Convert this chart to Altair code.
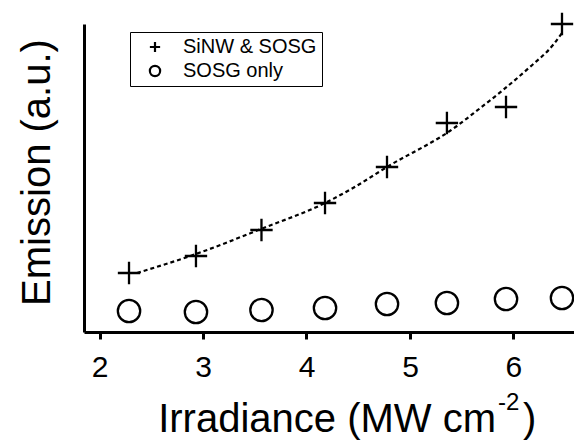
import altair as alt
import pandas as pd

# ---- data ----
irradiance = [2.285, 2.932, 3.565, 4.179, 4.778, 5.357, 5.928, 6.469]
emission_sinw = [0.59, 0.76, 1.02, 1.29, 1.65, 2.09, 2.25, 3.08]
emission_sosg = [0.21, 0.20, 0.22, 0.24, 0.28, 0.29, 0.33, 0.34]
fit_x = [2.362, 2.932, 3.560, 4.179, 4.449, 4.778, 5.454, 5.580, 5.899, 6.159, 6.382, 6.469]
fit_y = [0.59, 0.78, 1.03, 1.29, 1.44, 1.65, 2.06, 2.16, 2.42, 2.65, 2.87, 2.99]
series_names = ["SiNW & SOSG", "SOSG only"]
x_ticks = [2, 3, 4, 5, 6]

FONT = "Liberation Sans"
CROSS = "M-1,0L1,0M0,-1L0,1"

points = pd.DataFrame({
    "irradiance": irradiance + irradiance,
    "emission": emission_sinw + emission_sosg,
    "series": [series_names[0]] * len(irradiance) + [series_names[1]] * len(irradiance),
})
fit = pd.DataFrame({"irradiance": fit_x, "emission": fit_y})

x_enc = alt.X(
    "irradiance:Q",
    scale=alt.Scale(domain=[1.85, 6.585], nice=False, zero=False),
    axis=alt.Axis(
        title=None, values=x_ticks, format="d", grid=False,
        tickSize=7, tickWidth=3, tickColor="black",
        domainWidth=3, domainColor="black",
        labelFont=FONT, labelFontSize=30, labelColor="black", labelPadding=13,
    ),
)
y_enc = alt.Y(
    "emission:Q",
    scale=alt.Scale(domain=[0, 3.08], nice=False, zero=False),
    axis=alt.Axis(
        title="Emission (a.u.)", ticks=False, labels=False, grid=False,
        domainWidth=3, domainColor="black",
        titleFont=FONT, titleFontSize=40, titleFontWeight="normal", titleColor="black",
        titleAngle=270, titleX=-35, titleY=148, titleAlign="center",
        titleBaseline="alphabetic",
    ),
)

line = alt.Chart(fit).mark_line(
    color="black", strokeWidth=2.2, strokeDash=[4, 3], interpolate="monotone"
).encode(x=x_enc, y=y_enc)

pts = alt.Chart(points).mark_point(
    filled=False, color="black", strokeWidth=2.3, size=500, clip=False, opacity=1
).encode(
    x=x_enc,
    y=y_enc,
    shape=alt.Shape(
        "series:N",
        scale=alt.Scale(domain=series_names, range=[CROSS, "circle"]),
        legend=alt.Legend(
            title=None, orient="none", legendX=46, legendY=8,
            strokeColor="black", padding=5, rowPadding=4,
            labelFont=FONT, labelFontSize=20, labelColor="black",
            symbolSize=105, symbolStrokeWidth=2.2, symbolStrokeColor="black",
            symbolFillColor="transparent", symbolOffset=10, labelOffset=18,
        ),
    ),
)

title_main = alt.Chart(pd.DataFrame({"t": ["Irradiance (MW cm"]})).mark_text(
    font=FONT, fontSize=40, align="right", baseline="alphabetic", color="black"
).encode(x=alt.value(412), y=alt.value(408), text="t:N")
title_sup = alt.Chart(pd.DataFrame({"t": ["-2"]})).mark_text(
    font=FONT, fontSize=24, align="left", baseline="alphabetic", color="black"
).encode(x=alt.value(414), y=alt.value(386), text="t:N")
title_end = alt.Chart(pd.DataFrame({"t": [")"]})).mark_text(
    font=FONT, fontSize=40, align="left", baseline="alphabetic", color="black"
).encode(x=alt.value(439), y=alt.value(408), text="t:N")

chart = alt.layer(line, pts, title_main, title_sup, title_end).properties(
    width=490, height=308,
    padding={"left": 84, "top": 24, "right": 0, "bottom": 110},
    autosize="none",
    background="white",
).configure_view(stroke=None)

chart.save("out.html", embed_options={"renderer": "svg", "actions": False})
